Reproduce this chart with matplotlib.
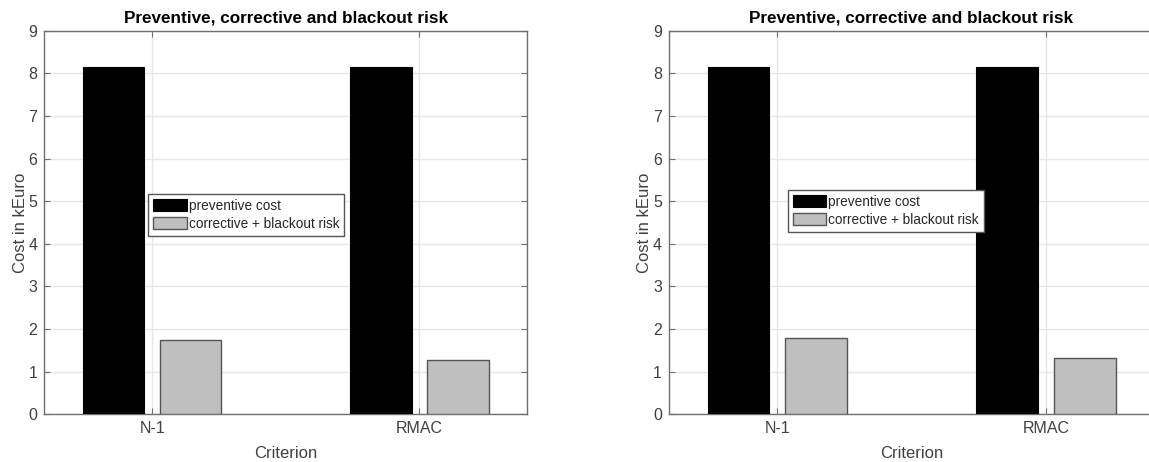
import matplotlib
matplotlib.use("Agg")
import matplotlib.pyplot as plt
import numpy as np

plt.rcParams['font.family'] = ['Liberation Sans', 'DejaVu Sans']

categories = ["N-1", "RMAC"]
series_names = ["preventive cost", "corrective + blackout risk"]
left_preventive = [8.15, 8.15]
left_corrective = [1.74, 1.27]
right_preventive = [8.15, 8.15]
right_corrective = [1.79, 1.33]
title = "Preventive, corrective and blackout risk"
xlabel = "Criterion"
ylabel = "Cost in kEuro"

W, H = 1149, 462
fig = plt.figure(figsize=(W / 100, H / 100), dpi=100)

spine_c = '#6e6e6e'

def draw(ax_rect, prev, corr, leg_xy, show_right=True):
    ax = fig.add_axes(ax_rect)
    x = np.arange(1, len(categories) + 1)
    off = 0.144
    w = 0.23
    ax.bar(x - off, prev, width=w, color='black', edgecolor='black', linewidth=0.8,
           label=series_names[0], zorder=3)
    ax.bar(x + off, corr, width=w, color='#bfbfbf', edgecolor='#555555', linewidth=1.0,
           label=series_names[1], zorder=3)
    ax.set_xlim(0.597, 2.402)
    ax.set_ylim(0, 9)
    ax.set_xticks(x)
    ax.set_xticklabels(categories)
    ax.set_yticks(range(0, 10))
    ax.grid(True, color='#e6e6e6', linewidth=1.0, zorder=0)
    ax.set_axisbelow(True)
    ax.tick_params(direction='in', length=4, width=0.8, color=spine_c,
                   labelsize=11.5, labelcolor='#404040', top=True, right=show_right, pad=5)
    for s in ax.spines.values():
        s.set_color(spine_c)
        s.set_linewidth(1.0)
    ax.set_title(title, fontsize=12.3, fontweight='bold', color='black', pad=6)
    ax.set_xlabel(xlabel, fontsize=12, color='#404040', labelpad=7)
    ax.set_ylabel(ylabel, fontsize=12, color='#404040', labelpad=0.5)
    leg = ax.legend(loc='upper left', bbox_to_anchor=(leg_xy[0] / W, 1 - leg_xy[1] / H),
                    bbox_transform=fig.transFigure, fontsize=9.85, frameon=True,
                    fancybox=False, edgecolor='#555555', framealpha=1,
                    handlelength=2.45, handleheight=1.0, handletextpad=0.15,
                    borderpad=0.35, labelspacing=0.3, borderaxespad=0)
    leg.get_frame().set_linewidth(1.0)
    for t in leg.get_texts():
        t.set_color('#262626')
    return ax

lw = 482.7
draw([44.3 / W, (H - 414.3) / H, lw / W, 383.6 / H], left_preventive, left_corrective, (148.3, 194))
draw([669 / W, (H - 414.3) / H, 485 / W, 383.6 / H], right_preventive, right_corrective, (788, 190),
     show_right=False)

fig.savefig("out.png", dpi=100, facecolor='white')
